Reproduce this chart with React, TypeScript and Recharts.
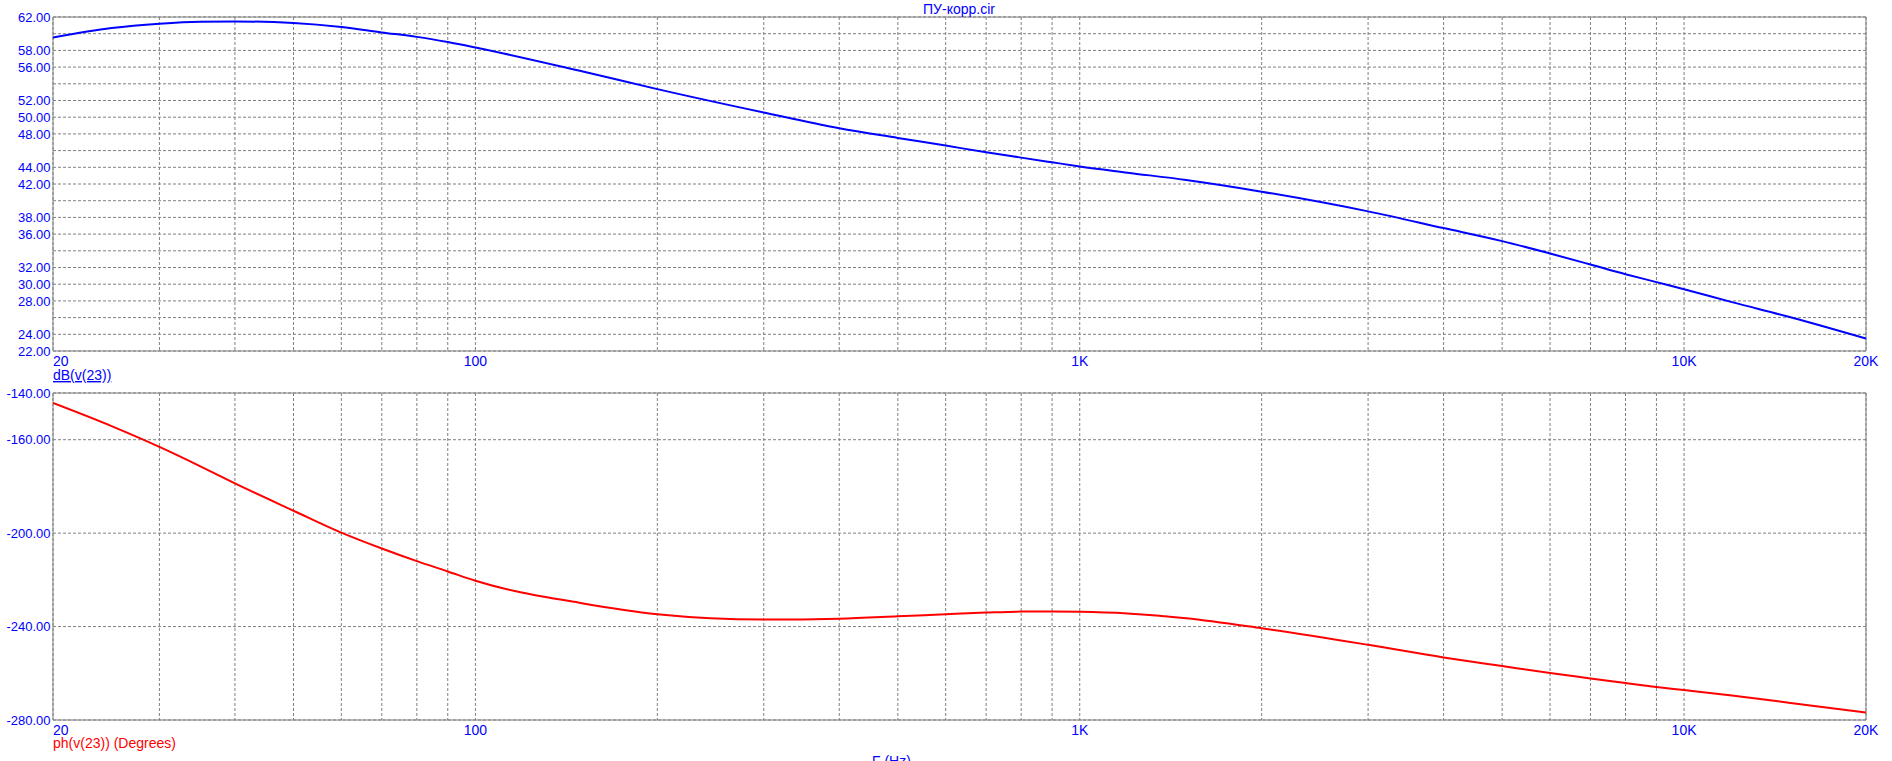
import React from 'react';
import { LineChart, Line, XAxis, YAxis, CartesianGrid, ReferenceArea } from 'recharts';

// Frequency points (Hz)
const freqs = [20, 25, 30, 35, 40, 50, 60, 70, 80, 90, 100, 150, 200, 300, 400, 500, 600, 700, 800, 900, 1000, 1200, 1500, 2000, 3000, 4000, 5000, 6000, 7000, 8000, 9000, 10000, 12000, 15000, 20000];
// dB(v(23))
const dbValues = [59.55, 60.68, 61.2, 61.44, 61.47, 61.28, 60.8, 60.15, 59.62, 59.0, 58.35, 55.5, 53.36, 50.56, 48.68, 47.52, 46.6, 45.8, 45.16, 44.6, 44.1, 43.36, 42.48, 41.08, 38.72, 36.72, 35.16, 33.68, 32.36, 31.2, 30.25, 29.4, 27.85, 26.05, 23.5];
// ph(v(23)) (Degrees)
const phValues = [-144.3, -154.2, -163.1, -171.3, -178.7, -190.4, -199.8, -206.6, -212.0, -216.4, -220.4, -230.0, -234.7, -237.0, -236.6, -235.6, -234.7, -234.0, -233.6, -233.6, -233.7, -234.4, -236.4, -240.7, -247.8, -253.2, -256.9, -259.9, -262.2, -264.2, -265.9, -267.2, -269.5, -272.7, -276.8];

// Axis ticks / grid
const xTicks = [20, 30, 40, 50, 60, 70, 80, 90, 100, 200, 300, 400, 500, 600, 700, 800, 900, 1000, 2000, 3000, 4000, 5000, 6000, 7000, 8000, 9000, 10000, 20000];
const xTickLabels: Record<number, string> = { 20: '20', 100: '100', 1000: '1K', 10000: '10K', 20000: '20K' };
const dbTicks = [22, 24, 26, 28, 30, 32, 34, 36, 38, 40, 42, 44, 46, 48, 50, 52, 54, 56, 58, 60, 62];
const dbLabeled = [62, 58, 56, 52, 50, 48, 44, 42, 38, 36, 32, 30, 28, 24, 22];
const phTicks = [-280, -240, -200, -160, -140];

const title = 'ПУ-корр.cir';
const dbName = 'dB(v(23))';
const phName = 'ph(v(23)) (Degrees)';
const xName = 'F (Hz)';

const data = freqs.map((f, i) => ({ f, db: dbValues[i], ph: phValues[i] }));

const FONT = '"Liberation Sans", Arial, sans-serif';
const BLUE = '#0000ff';
const RED = '#ff0000';
const GRID = '#808080';

const XTick = (props: any) => {
  const { x, y, payload } = props;
  const label = xTickLabels[payload.value];
  if (!label) return <g />;
  const anchor = payload.value === 20 ? 'start' : 'middle';
  return (
    <text x={x} y={y + 14.5} textAnchor={anchor} fill={BLUE} fontSize={14} fontFamily={FONT}>
      {label}
    </text>
  );
};

const makeYTick = (labeled: number[] | null) => (props: any) => {
  const { x, y, payload } = props;
  if (labeled && !labeled.includes(payload.value)) return <g />;
  return (
    <text x={x - 2.5} y={y} dy="0.36em" textAnchor="end" fill={BLUE} fontSize={13} fontFamily={FONT}>
      {payload.value.toFixed(2)}
    </text>
  );
};

const DbTick = makeYTick(dbLabeled);
const PhTick = makeYTick(null);

export default function App() {
  return (
    <div style={{ position: 'absolute', left: 0, top: 0, width: 1892, height: 761, background: '#fff', overflow: 'hidden' }}>
      <div style={{ position: 'absolute', left: 0, top: 0 }}>
        <LineChart width={1892} height={381} data={data} margin={{ top: 17, right: 26, bottom: 0, left: 0 }}>
          <CartesianGrid stroke={GRID} strokeDasharray="3 2" />
          <XAxis
            dataKey="f"
            type="number"
            scale="log"
            domain={[20, 20000]}
            ticks={xTicks}
            allowDataOverflow
            height={30}
            tickSize={0}
            tickMargin={0}
            axisLine={false}
            tickLine={false}
            tick={<XTick />}
            interval={0}
          />
          <YAxis
            type="number"
            domain={[22, 62]}
            ticks={dbTicks}
            width={53}
            tickSize={0}
            tickMargin={0}
            axisLine={false}
            tickLine={false}
            tick={<DbTick />}
            interval={0}
          />
          <ReferenceArea x1={20} x2={20000} y1={22} y2={62} fill="none" fillOpacity={0} stroke={GRID} strokeWidth={1} />
          <Line type="monotone" dataKey="db" stroke={BLUE} strokeWidth={2} dot={false} isAnimationActive={false} />
        </LineChart>
      </div>
      <div style={{ position: 'absolute', left: 0, top: 380 }}>
        <LineChart width={1892} height={381} data={data} margin={{ top: 13, right: 26, bottom: 0, left: 0 }}>
          <CartesianGrid stroke={GRID} strokeDasharray="3 2" />
          <XAxis
            dataKey="f"
            type="number"
            scale="log"
            domain={[20, 20000]}
            ticks={xTicks}
            allowDataOverflow
            height={41}
            tickSize={0}
            tickMargin={0}
            axisLine={false}
            tickLine={false}
            tick={<XTick />}
            interval={0}
          />
          <YAxis
            type="number"
            domain={[-280, -140]}
            ticks={phTicks}
            width={53}
            tickSize={0}
            tickMargin={0}
            axisLine={false}
            tickLine={false}
            tick={<PhTick />}
            interval={0}
          />
          <ReferenceArea x1={20} x2={20000} y1={-280} y2={-140} fill="none" fillOpacity={0} stroke={GRID} strokeWidth={1} />
          <Line type="monotone" dataKey="ph" stroke={RED} strokeWidth={2} dot={false} isAnimationActive={false} />
        </LineChart>
      </div>
      <svg width={1892} height={761} style={{ position: 'absolute', left: 0, top: 0, pointerEvents: 'none' }}>
        <text x={959} y={13.5} textAnchor="middle" fill={BLUE} fontSize={14} fontFamily={FONT}>{title}</text>
        <text x={53} y={380} fill={BLUE} fontSize={14} fontFamily={FONT} textDecoration="underline">{dbName}</text>
        <text x={53} y={747.5} fill={RED} fontSize={14} fontFamily={FONT}>{phName}</text>
        <text x={872} y={766} fill={BLUE} fontSize={14} fontFamily={FONT}>{xName}</text>
      </svg>
    </div>
  );
}
